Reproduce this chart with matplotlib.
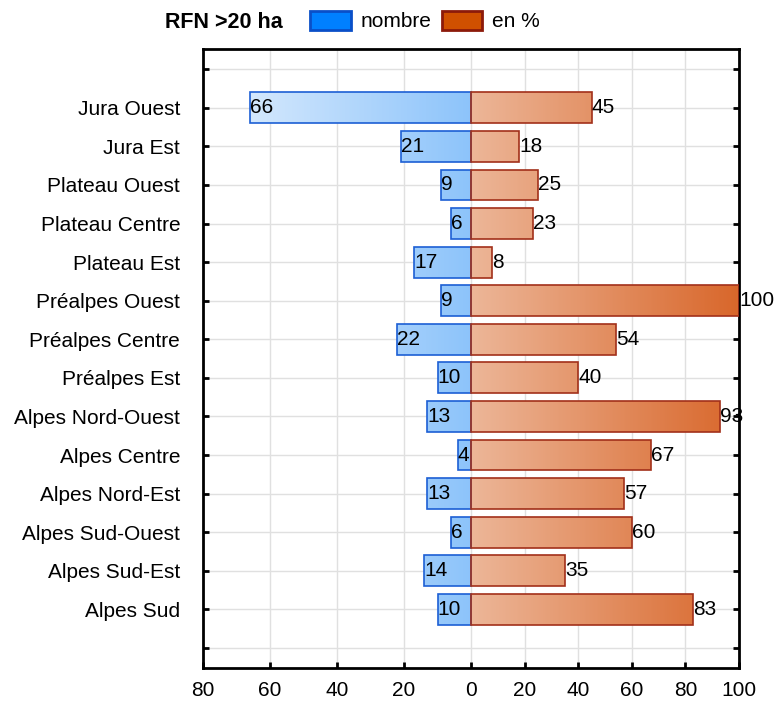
import numpy as np
import matplotlib
matplotlib.use("Agg")
import matplotlib.pyplot as plt
from matplotlib.patches import Patch
from matplotlib.colors import to_rgb

plt.rcParams['font.family'] = ['Liberation Sans', 'DejaVu Sans']

regions = ["Jura Ouest", "Jura Est", "Plateau Ouest", "Plateau Centre", "Plateau Est",
           "Préalpes Ouest", "Préalpes Centre", "Préalpes Est", "Alpes Nord-Ouest",
           "Alpes Centre", "Alpes Nord-Est", "Alpes Sud-Ouest", "Alpes Sud-Est", "Alpes Sud"]
nombre = [66, 21, 9, 6, 17, 9, 22, 10, 13, 4, 13, 6, 14, 10]
pourcent = [45, 18, 25, 23, 8, 100, 54, 40, 93, 67, 57, 60, 35, 83]
left_ticks = [80, 60, 40, 20]
right_ticks = [0, 20, 40, 60, 80, 100]

FS = 15

def fwd(x):
    x = np.asarray(x, dtype=float)
    return np.where(x < 0, x * 1.25, x)

def inv(x):
    x = np.asarray(x, dtype=float)
    return np.where(x < 0, x / 1.25, x)

blue_near, blue_far = np.array(to_rgb("#8cc3fa")), np.array(to_rgb("#e2effd"))
or_near, or_far = np.array(to_rgb("#ecb698")), np.array(to_rgb("#d8662a"))

def blue_col(x):
    t = min(abs(x) / 80.0, 1)
    return tuple(blue_near + (blue_far - blue_near) * t)

def or_col(x):
    t = min(abs(x) / 100.0, 1)
    return tuple(or_near + (or_far - or_near) * t)

fig = plt.figure(figsize=(7.75, 7.02), dpi=100)
ax = fig.add_axes([0.262, 0.0484, 0.6915, 0.8816])
ax.set_xscale('function', functions=(fwd, inv))
ax.set_xlim(-80, 100)

H = 0.8
step = 0.5
for i, (n, p) in enumerate(zip(nombre, pourcent)):
    lefts = np.arange(-n, 0, step)
    widths = np.minimum(step, 0 - lefts)
    cols = [blue_col(l + w / 2) for l, w in zip(lefts, widths)]
    ax.barh(np.full(len(lefts), i), widths, left=lefts, height=H, color=cols,
            linewidth=0, zorder=2)
    ax.barh(i, -n, height=H, fill=False, edgecolor="#1c5fd4", linewidth=1.2, zorder=3)
    lefts = np.arange(0, p, step)
    widths = np.minimum(step, p - lefts)
    cols = [or_col(l + w / 2) for l, w in zip(lefts, widths)]
    ax.barh(np.full(len(lefts), i), widths, left=lefts, height=H, color=cols,
            linewidth=0, zorder=2)
    ax.barh(i, p, height=H, fill=False, edgecolor="#a2301a", linewidth=1.2, zorder=3)
    ax.text(-n, i, str(n), ha='left', va='center', fontsize=FS, zorder=5, clip_on=False)
    ax.text(p, i, str(p), ha='left', va='center', fontsize=FS, zorder=5, clip_on=False)

ax.set_ylim(len(regions) + 0.52, -1.52)
ax.set_yticks(range(-1, len(regions) + 1))
ax.set_yticklabels([""] + regions + [""], fontsize=FS)

xt = [-v for v in left_ticks] + right_ticks
ax.set_xticks(xt)
ax.set_xticklabels([str(abs(v)) for v in xt], fontsize=FS)
ax.xaxis.set_minor_locator(matplotlib.ticker.NullLocator())

ax.tick_params(axis='y', direction='in', length=4, width=2, pad=16.5, left=True, right=True)
ax.tick_params(axis='x', direction='in', length=4, width=2, pad=9)
ax.grid(True, color="#e0e0e0", linewidth=1, zorder=0)
ax.set_axisbelow(True)
for s in ax.spines.values():
    s.set_linewidth(2)
    s.set_color("black")

fig.text(165 / 775, 1 - 22 / 702, "RFN >20 ha", fontsize=FS + 0.5, fontweight='bold',
         ha='left', va='center')
handles = [Patch(facecolor="#0080ff", edgecolor="#0a4fc8", linewidth=2, label="nombre"),
           Patch(facecolor="#d05000", edgecolor="#8c1a0a", linewidth=2, label="en %")]
fig.legend(handles=handles, loc='center', bbox_to_anchor=(425 / 775, 1 - 21 / 702),
           ncol=2, frameon=False, fontsize=FS, handlelength=1.95, handleheight=1.05,
           handletextpad=0.45, columnspacing=0.5, borderpad=0)

fig.savefig("out.png", dpi=100)
